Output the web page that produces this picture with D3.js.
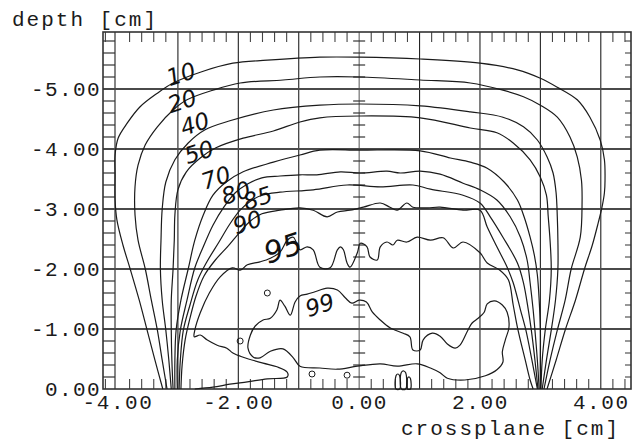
<!DOCTYPE html>
<html>
<head>
<meta charset="utf-8">
<script src="https://cdn.jsdelivr.net/npm/d3@7"></script>
<style>
  body { margin: 0; background: #fff; }
  svg { display: block; }
</style>
</head>
<body>
<div id="chart"></div>
<script>
// isodose lines: [crossplane cm, depth cm]
const iso10 = [[-3.25,0],[-3.38,-0.48],[-3.51,-0.98],[-3.64,-1.48],[-3.79,-2.00],[-3.91,-2.40],[-4.01,-2.82],[-4.04,-3.15],[-4.04,-3.57],[-4.04,-3.90],[-3.99,-4.18],[-3.84,-4.43],[-3.63,-4.70],[-3.34,-4.93],[-3.08,-5.10],[-2.63,-5.28],[-2.09,-5.43],[-1.52,-5.48],[-0.65,-5.53],[0,-5.53],[1.01,-5.50],[2.00,-5.43],[2.62,-5.32],[3.00,-5.18],[3.28,-5.03],[3.61,-4.82],[3.82,-4.53],[3.99,-4.15],[4.06,-3.82],[4.07,-3.48],[4.06,-3.27],[4.02,-3.03],[3.96,-2.78],[3.86,-2.40],[3.73,-2.00],[3.58,-1.48],[3.41,-0.98],[3.26,-0.48],[3.11,0]]
const iso20 = [[-3.18,0],[-3.26,-0.48],[-3.34,-0.98],[-3.44,-1.48],[-3.54,-2.00],[-3.66,-2.48],[-3.71,-2.90],[-3.71,-3.37],[-3.66,-3.73],[-3.54,-4.07],[-3.34,-4.37],[-3.08,-4.65],[-2.85,-4.82],[-2.42,-4.98],[-1.97,-5.10],[-1.26,-5.15],[-0.65,-5.20],[0,-5.20],[1.01,-5.15],[1.84,-5.10],[2.38,-4.98],[2.72,-4.87],[3.00,-4.73],[3.28,-4.53],[3.49,-4.20],[3.61,-3.87],[3.68,-3.48],[3.69,-3.10],[3.66,-2.53],[3.51,-2.00],[3.41,-1.48],[3.28,-0.98],[3.16,-0.48],[3.06,0]]
const iso40 = [[-3.11,0],[-3.15,-0.48],[-3.20,-0.98],[-3.26,-1.48],[-3.29,-2.00],[-3.28,-2.48],[-3.26,-3.00],[-3.20,-3.45],[-3.05,-3.82],[-2.83,-4.10],[-2.55,-4.32],[-2.14,-4.47],[-1.42,-4.65],[-0.65,-4.73],[0,-4.75],[1.01,-4.72],[1.84,-4.62],[2.38,-4.53],[2.72,-4.37],[2.95,-4.15],[3.11,-3.87],[3.21,-3.60],[3.26,-3.27],[3.28,-2.87],[3.29,-2.48],[3.29,-2.00],[3.25,-1.48],[3.18,-0.98],[3.10,-0.48],[3.03,0]]
const iso50 = [[-3.08,0],[-3.10,-0.48],[-3.11,-0.98],[-3.11,-1.48],[-3.08,-2.00],[-3.06,-2.48],[-3.05,-2.90],[-3.00,-3.32],[-2.86,-3.62],[-2.63,-3.85],[-2.37,-4.02],[-1.92,-4.18],[-1.42,-4.30],[-0.98,-4.45],[-0.65,-4.52],[0,-4.55],[1.01,-4.52],[1.84,-4.35],[2.28,-4.27],[2.55,-4.10],[2.83,-3.82],[3.00,-3.53],[3.10,-3.23],[3.13,-2.87],[3.16,-2.48],[3.18,-2.00],[3.15,-1.48],[3.08,-0.98],[3.03,-0.48],[3.01,0]]
const iso70 = [[-3.05,0],[-3.05,-0.48],[-3.03,-0.98],[-2.95,-1.48],[-2.83,-2.00],[-2.72,-2.48],[-2.58,-2.90],[-2.42,-3.23],[-2.20,-3.45],[-1.92,-3.62],[-1.42,-3.78],[-0.98,-3.90],[-0.65,-3.98],[0,-3.98],[1.01,-3.97],[1.51,-3.85],[1.84,-3.78],[2.12,-3.68],[2.40,-3.45],[2.62,-3.15],[2.73,-2.87],[2.83,-2.53],[2.90,-2.23],[2.95,-1.90],[2.98,-1.48],[3.00,-0.98],[3.00,-0.48],[3.00,0]]
const iso80 = [[-3.01,0],[-3.01,-0.48],[-2.96,-0.98],[-2.85,-1.48],[-2.72,-2.02],[-2.58,-2.37],[-2.42,-2.73],[-2.24,-3.03],[-2.05,-3.27],[-1.84,-3.42],[-1.61,-3.52],[-1.31,-3.55],[-0.98,-3.57],[-0.70,-3.57],[-0.31,-3.62],[0.02,-3.60],[0.46,-3.63],[0.68,-3.60],[1.01,-3.63],[1.34,-3.58],[1.72,-3.43],[2.00,-3.32],[2.28,-3.15],[2.50,-2.87],[2.67,-2.53],[2.78,-2.15],[2.83,-1.77],[2.88,-1.32],[2.91,-0.98],[2.95,-0.48],[2.98,0]]
const iso85 = [[-2.98,0],[-2.96,-0.48],[-2.91,-0.98],[-2.80,-1.40],[-2.67,-1.82],[-2.52,-2.12],[-2.32,-2.45],[-2.14,-2.75],[-1.97,-2.98],[-1.80,-3.13],[-1.61,-3.23],[-1.31,-3.28],[-0.76,-3.32],[-0.20,-3.40],[0.35,-3.37],[0.89,-3.40],[1.18,-3.33],[1.72,-3.23],[2.00,-3.10],[2.17,-2.87],[2.38,-2.53],[2.62,-2.10],[2.72,-1.77],[2.80,-1.32],[2.85,-0.98],[2.91,-0.48],[2.96,0]]
const iso90 = [[-2.95,0],[-2.93,-0.40],[-2.88,-0.82],[-2.80,-1.18],[-2.70,-1.55],[-2.57,-1.88],[-2.38,-2.15],[-2.17,-2.38],[-1.97,-2.62],[-1.80,-2.80],[-1.61,-2.92],[-1.31,-2.98],[-0.98,-3.02],[-0.76,-2.98],[-0.53,-2.87],[-0.36,-2.95],[-0.15,-2.98],[0.07,-3.03],[0.35,-3.10],[0.51,-3.03],[0.63,-2.98],[0.79,-3.10],[0.89,-3.03],[1.13,-3.02],[1.34,-3.03],[1.72,-2.98],[2.00,-2.98],[2.12,-2.70],[2.28,-2.37],[2.45,-2.03],[2.55,-1.77],[2.67,-1.32],[2.76,-0.98],[2.86,-0.48],[2.95,0]]
const iso95 = [[-2.72,0],[-2.42,-0.03],[-2.14,-0.08],[-1.85,-0.12],[-1.52,-0.17],[-1.19,-0.20],[-1.19,-0.28],[-1.36,-0.37],[-1.59,-0.43],[-1.92,-0.53],[-2.09,-0.60],[-2.19,-0.68],[-2.35,-0.73],[-2.52,-0.82],[-2.63,-0.90],[-2.73,-0.87],[-2.72,-0.98],[-2.63,-1.27],[-2.48,-1.60],[-2.30,-1.87],[-2.10,-2.02],[-1.97,-1.98],[-1.85,-2.07],[-1.64,-2.12],[-1.47,-2.18],[-1.31,-2.28],[-1.19,-2.48],[-1.09,-2.53],[-0.98,-2.32],[-0.86,-2.37],[-0.76,-2.32],[-0.65,-2.03],[-0.48,-2.02],[-0.36,-2.32],[-0.31,-2.37],[-0.26,-2.32],[-0.20,-2.10],[-0.15,-2.03],[-0.03,-2.27],[0.02,-2.43],[0.13,-2.37],[0.18,-2.20],[0.30,-2.15],[0.35,-2.37],[0.46,-2.45],[0.56,-2.40],[0.63,-2.48],[0.79,-2.45],[0.96,-2.53],[1.18,-2.48],[1.39,-2.52],[1.56,-2.35],[1.72,-2.45],[2.00,-2.27],[2.12,-2.10],[2.33,-1.98],[2.47,-1.82],[2.55,-1.40],[2.63,-0.98],[2.75,-0.48],[2.83,-0.15],[2.88,0]]
const iso99 = [[-1.84,-0.68],[-1.80,-0.90],[-1.72,-1.05],[-1.59,-1.15],[-1.47,-1.18],[-1.36,-1.32],[-1.31,-1.48],[-1.23,-1.38],[-1.14,-1.23],[-1.06,-1.45],[-0.98,-1.55],[-0.86,-1.58],[-0.73,-1.62],[-0.53,-1.68],[-0.36,-1.65],[-0.23,-1.52],[-0.12,-1.43],[0,-1.48],[0.12,-1.45],[0.22,-1.28],[0.35,-1.15],[0.51,-1.02],[0.73,-0.93],[0.84,-0.87],[0.89,-0.65],[1.01,-0.65],[1.06,-0.82],[1.21,-0.93],[1.34,-0.88],[1.46,-0.75],[1.59,-0.68],[1.67,-0.73],[1.80,-0.98],[1.87,-1.10],[1.97,-1.18],[2.07,-1.28],[2.12,-1.42],[2.24,-1.47],[2.37,-1.40],[2.45,-1.28],[2.48,-1.03],[2.42,-0.82],[2.37,-0.62],[2.38,-0.45],[2.28,-0.32],[2.09,-0.22],[1.75,-0.15],[1.46,-0.18],[1.34,-0.27],[1.18,-0.35],[0.96,-0.42],[0.63,-0.38],[0.35,-0.42],[-0.03,-0.38],[-0.36,-0.33],[-0.65,-0.35],[-0.98,-0.38],[-1.09,-0.52],[-1.26,-0.67],[-1.47,-0.63],[-1.64,-0.52],[-1.75,-0.53]]
// tiny 99% islands at the surface and stray dots
const islands = [
  [[0.61,0],[0.61,-0.22],[0.64,-0.25],[0.67,-0.22],[0.67,0]],
  [[0.70,0],[0.70,-0.28],[0.74,-0.30],[0.77,-0.27],[0.77,0]],
  [[0.80,0],[0.80,-0.18],[0.83,-0.20],[0.85,-0.17],[0.85,0]]
]
const blips = [[-1.97,-0.80],[-1.52,-1.60],[-0.78,-0.25],[-0.20,-0.23]]

// handwritten level marks and where they sit
const handText = ["10","20","40","50","70","80","85","90","95","99"]
const handAt = [[-2.95,-5.25],[-2.93,-4.80],[-2.72,-4.42],[-2.65,-3.95],[-2.37,-3.52],[-2.04,-3.27],[-1.68,-3.18],[-1.85,-2.78],[-1.26,-2.35],[-0.65,-1.40]]

const xTicks = [-4, -2, 0, 2, 4]
const yTicks = [0, -1, -2, -3, -4, -5]
const xGrid = [-3, -2, -1, 1, 2, 3, 4]
const yGrid = [-1, -2, -3, -4, -5]

const W = 634, H = 441
const svg = d3.select("#chart").append("svg").attr("width", W).attr("height", H)

const x = d3.scaleLinear().domain([-4.24, 4.5]).range([103, 631])
const y = d3.scaleLinear().domain([0, -5.95]).range([389, 32])

const ink = "#1b1b1b"
const mono = "'Liberation Mono', 'DejaVu Sans Mono', monospace"

// minor ticks every 0.2 cm
const minorX = d3.range(-21, 23).map(i => i / 5).filter(v => Math.abs(v - Math.round(v)) > 1e-6)
const minorY = d3.range(1, 30).map(i => -i / 5)

let frame = svg.append("g")

// left ladder
frame.append("line")
    .attr("x1", x(-4.24) + 12).attr("x2", x(-4.24) + 12)
    .attr("y1", y(-5.95)).attr("y2", y(0))
    .attr("stroke", "#333").attr("stroke-width", 1.2)
frame.selectAll(".rung")
    .data(minorY)
    .enter().append("line")
    .attr("x1", x(-4.24)).attr("x2", x(-4.24) + 12)
    .attr("y1", d => y(d)).attr("y2", d => y(d))
    .attr("stroke", "#333").attr("stroke-width", 1.2)

// top and bottom minor ticks
frame.selectAll(".tt")
    .data(minorX)
    .enter().append("line")
    .attr("x1", d => x(d)).attr("x2", d => x(d))
    .attr("y1", y(-5.95)).attr("y2", y(-5.95) + 10)
    .attr("stroke", "#444").attr("stroke-width", 1.1)
frame.selectAll(".bt")
    .data(minorX)
    .enter().append("line")
    .attr("x1", d => x(d)).attr("x2", d => x(d))
    .attr("y1", y(0)).attr("y2", y(0) - 10)
    .attr("stroke", "#444").attr("stroke-width", 1.1)

// right ticks
frame.selectAll(".rt")
    .data(minorY)
    .enter().append("line")
    .attr("x1", x(4.5)).attr("x2", x(4.5) - 6)
    .attr("y1", d => y(d)).attr("y2", d => y(d))
    .attr("stroke", "#444").attr("stroke-width", 1.1)

// centre axis with its little crossbars
frame.append("line")
    .attr("x1", x(0)).attr("x2", x(0))
    .attr("y1", y(-5.95)).attr("y2", y(0))
    .attr("stroke", "#555").attr("stroke-width", 1)
frame.selectAll(".ct")
    .data(minorY)
    .enter().append("line")
    .attr("x1", x(0) - 6).attr("x2", x(0) + 6)
    .attr("y1", d => y(d)).attr("y2", d => y(d))
    .attr("stroke", "#333").attr("stroke-width", 1.2)

// grid
frame.selectAll(".vg")
    .data(xGrid)
    .enter().append("line")
    .attr("x1", d => x(d)).attr("x2", d => x(d))
    .attr("y1", y(-5.95)).attr("y2", y(0))
    .attr("stroke", "#222").attr("stroke-width", 1.1)
frame.selectAll(".hg")
    .data(yGrid)
    .enter().append("line")
    .attr("x1", x(-4.24)).attr("x2", x(4.5))
    .attr("y1", d => y(d)).attr("y2", d => y(d))
    .attr("stroke", "#4a4a4a").attr("stroke-width", 2)

frame.append("rect")
    .attr("x", x(-4.24)).attr("y", y(-5.95))
    .attr("width", x(4.5) - x(-4.24)).attr("height", y(0) - y(-5.95))
    .attr("fill", "none").attr("stroke", "#333").attr("stroke-width", 1.6)

// isodose lines
let lineGen = d3.line()
    .x(d => x(d[0]))
    .y(d => y(d[1]))
    .curve(d3.curveCatmullRom.alpha(0.5))

let closedGen = d3.line()
    .x(d => x(d[0]))
    .y(d => y(d[1]))
    .curve(d3.curveCatmullRomClosed.alpha(0.5))

let curves = svg.append("g")
curves.selectAll("path.iso")
    .data([iso10, iso20, iso40, iso50, iso70, iso80, iso85, iso90, iso95])
    .enter().append("path")
    .attr("d", d => lineGen(d))
    .attr("fill", "none")
    .attr("stroke", ink)
    .attr("stroke-width", 1.2)

curves.selectAll("path.isl")
    .data([iso99].concat(islands))
    .enter().append("path")
    .attr("d", d => closedGen(d))
    .attr("fill", "none")
    .attr("stroke", ink)
    .attr("stroke-width", 1.2)

curves.selectAll("circle")
    .data(blips)
    .enter().append("circle")
    .attr("cx", d => x(d[0])).attr("cy", d => y(d[1]))
    .attr("r", 3)
    .attr("fill", "none").attr("stroke", ink).attr("stroke-width", 1)

// handwritten marks
svg.append("g").selectAll("text")
    .data(handText)
    .enter().append("text")
    .attr("transform", (d, i) => `translate(${x(handAt[i][0])},${y(handAt[i][1])}) rotate(-18)`)
    .attr("text-anchor", "middle")
    .attr("dy", "0.35em")
    .attr("font-family", "'DejaVu Sans', sans-serif")
    .attr("font-style", "italic")
    .attr("font-size", d => d == "95" ? 30 : 23)
    .attr("fill", "#111")
    .text(d => d)

// axes labels
let xAxis = svg.append("g")
    .attr("transform", `translate(0,${y(0)})`)
    .call(d3.axisBottom(x).tickValues(xTicks).tickSize(0).tickFormat(d => d.toFixed(2)))
xAxis.select(".domain").remove()
xAxis.selectAll("text")
    .attr("y", 20).attr("dy", null)
    .attr("font-family", mono).attr("font-size", 21)
    .attr("letter-spacing", 1.6).attr("fill", ink)

let yAxis = svg.append("g")
    .attr("transform", `translate(${x(-4.24)},0)`)
    .call(d3.axisLeft(y).tickValues(yTicks).tickSize(0).tickFormat(d => d.toFixed(2)))
yAxis.select(".domain").remove()
yAxis.selectAll("text")
    .attr("x", -2).attr("dy", "0.32em")
    .attr("font-family", mono).attr("font-size", 21)
    .attr("letter-spacing", 1.4).attr("fill", ink)

svg.append("text")
    .attr("x", 12).attr("y", 26)
    .attr("font-family", mono).attr("font-size", 21)
    .attr("letter-spacing", 2).attr("fill", ink)
    .text("depth [cm]")

svg.append("text")
    .attr("x", 620).attr("y", 435)
    .attr("text-anchor", "end")
    .attr("font-family", mono).attr("font-size", 21)
    .attr("letter-spacing", 2).attr("fill", ink)
    .text("crossplane [cm]")
</script>
</body>
</html>
